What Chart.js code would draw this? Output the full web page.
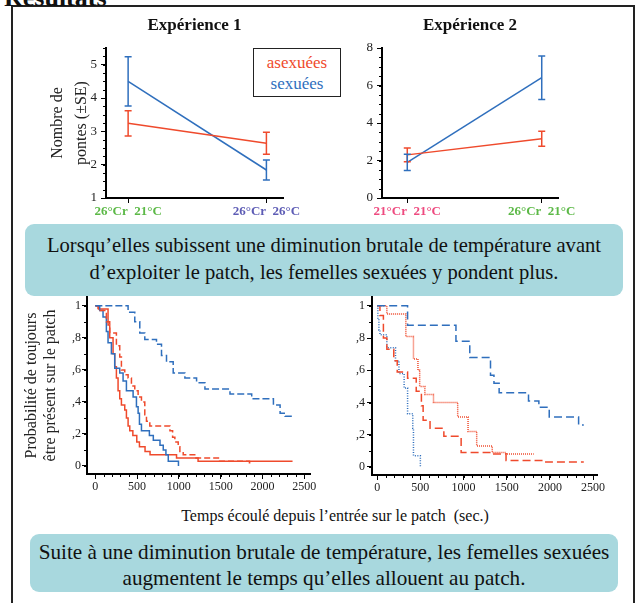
<!DOCTYPE html>
<html lang="fr">
<head>
<meta charset="utf-8">
<title>Résultats</title>
<script src="https://cdn.jsdelivr.net/npm/chart.js@4.4.1/dist/chart.umd.min.js"></script>
<style>
  body { margin: 0; background: #fff; }
  #page { position: relative; width: 640px; height: 603px; overflow: hidden;
          font-family: "Liberation Serif", "Times New Roman", serif; color: #111; }
  canvas { position: absolute; }
  #cadre { position: absolute; left: 11px; top: 5px; width: 624px; height: 700px;
           box-sizing: border-box; border: 2px solid #222; }
  #titre { position: absolute; left: 4px; top: -15px; font-size: 26px; line-height: 26px;
           font-weight: bold; white-space: nowrap; }
  #legende { position: absolute; left: 253px; top: 48px; width: 88px; height: 49px;
             box-sizing: border-box; border: 1px solid #222; background: #fff;
             display: flex; flex-direction: column; justify-content: center; align-items: center;
             font-size: 17px; line-height: 21px; }
  #axeTemps { position: absolute; left: 0; width: 670px; top: 507px; text-align: center;
              font-size: 16px; line-height: 18px; white-space: pre; }
  .encadre { position: absolute; background: #a8d8de; border-radius: 9px; text-align: center;
             color: #111; box-sizing: border-box; white-space: nowrap; }
  #conclusion1 { left: 25px; top: 224px; width: 598px; height: 72px; padding-top: 8px;
                 font-size: 20.6px; line-height: 27px; }
  #conclusion2 { left: 30px; top: 534px; width: 588px; height: 58px; padding-top: 5px;
                 font-size: 21.2px; line-height: 26px; }
</style>
</head>
<body>
<div id="page">
  <div id="cadre"></div>
  <div id="titre">Résultats</div>
  <canvas id="exp1" width="330" height="222" style="left:0;top:0"></canvas>
  <canvas id="exp2" width="300" height="222" style="left:330px;top:0"></canvas>
  <canvas id="survie1" width="330" height="210" style="left:0;top:290px"></canvas>
  <canvas id="survie2" width="300" height="210" style="left:330px;top:290px"></canvas>
  <div id="legende"></div>
  <div id="conclusion1" class="encadre">Lorsqu’elles subissent une diminution brutale de température avant<br>d’exploiter le patch, les femelles sexuées y pondent plus.</div>
  <div id="axeTemps">Temps écoulé depuis l’entrée sur le patch  (sec.)</div>
  <div id="conclusion2" class="encadre">Suite à une diminution brutale de température, les femelles sexuées<br>augmentent le temps qu’elles allouent au patch.</div>
</div>

<script>
// Séries (asexuées / sexuées)
const nomsSeries = ["asexuées", "sexuées"];
const couleursSeries = ["#ef4a2c", "#2f6fbd"];

// Expérience 1 : nombre de pontes (±SE)
const categoriesExp1 = ["26°Cr  21°C", "26°Cr  26°C"];
const couleursCatExp1 = ["#5cb947", "#5d5cb5"];
const pontesAsexExp1 = [3.24, 2.64];
const seAsexExp1 = [0.38, 0.33];
const pontesSexExp1 = [4.5, 1.84];
const seSexExp1 = [0.74, 0.3];
const ticksExp1 = [1, 2, 3, 4, 5];

// Expérience 2 : nombre de pontes (±SE)
const categoriesExp2 = ["21°Cr  21°C", "26°Cr  21°C"];
const couleursCatExp2 = ["#ee4a7f", "#5cb947"];
const pontesAsexExp2 = [2.3, 3.16];
const seAsexExp2 = [0.37, 0.4];
const pontesSexExp2 = [1.9, 6.42];
const seSexExp2 = [0.43, 1.16];
const ticksExp2 = [0, 2, 4, 6, 8];

// Probabilité de rester sur le patch, expérience 1
const tempsAsexChaud1 = [0, 40, 152, 172, 212, 232, 252, 272, 292, 312, 352, 372, 392, 412, 449, 496, 528, 595, 655, 972, 1230, 2361];
const survieAsexChaud1 = [1, 0.98, 0.88, 0.8, 0.7, 0.62, 0.55, 0.47, 0.42, 0.38, 0.35, 0.3, 0.25, 0.22, 0.19, 0.15, 0.12, 0.09, 0.07, 0.05, 0.03, 0.03];
const tempsSexChaud1 = [0, 52, 92, 132, 152, 192, 232, 292, 332, 372, 452, 492, 512, 528, 552, 647, 694, 774, 813, 845, 873, 995];
const survieSexChaud1 = [1, 0.97, 0.93, 0.84, 0.77, 0.7, 0.61, 0.58, 0.53, 0.47, 0.43, 0.37, 0.33, 0.26, 0.22, 0.19, 0.16, 0.13, 0.1, 0.07, 0.03, 0];
const tempsAsexChoc1 = [0, 32, 132, 172, 252, 292, 312, 352, 392, 432, 472, 512, 552, 592, 612, 652, 893, 925, 952, 992, 1012, 1052, 1190, 1488, 1845, 1860];
const survieAsexChoc1 = [1, 0.97, 0.9, 0.83, 0.75, 0.68, 0.6, 0.57, 0.55, 0.5, 0.47, 0.43, 0.4, 0.32, 0.28, 0.25, 0.22, 0.18, 0.15, 0.12, 0.09, 0.07, 0.05, 0.03, 0.02, 0.02];
const tempsSexChoc1 = [0, 392, 472, 532, 592, 732, 792, 852, 932, 1072, 1212, 1312, 1612, 1872, 2132, 2212, 2272, 2372];
const survieSexChoc1 = [1, 0.96, 0.9, 0.83, 0.79, 0.76, 0.69, 0.65, 0.58, 0.55, 0.52, 0.48, 0.45, 0.42, 0.38, 0.33, 0.31, 0.31];

// Probabilité de rester sur le patch, expérience 2
const tempsAsexFroid2 = [0, 112, 332, 420, 472, 492, 552, 652, 932, 1052, 1152, 1332, 1492, 1812];
const survieAsexFroid2 = [1, 0.95, 0.81, 0.67, 0.6, 0.5, 0.45, 0.4, 0.31, 0.22, 0.13, 0.09, 0.08, 0.08];
const tempsSexFroid2 = [0, 8, 20, 32, 112, 212, 252, 312, 352, 412, 420, 500];
const survieSexFroid2 = [1, 0.92, 0.85, 0.82, 0.74, 0.66, 0.58, 0.49, 0.33, 0.24, 0.07, 0];
const tempsAsexChoc2 = [0, 32, 72, 112, 192, 232, 352, 452, 512, 532, 612, 772, 972, 1332, 1492, 1952, 2392];
const survieAsexChoc2 = [1, 0.94, 0.8, 0.73, 0.66, 0.59, 0.55, 0.47, 0.38, 0.29, 0.24, 0.19, 0.09, 0.08, 0.04, 0.03, 0.03];
const tempsSexChoc2 = [0, 352, 912, 1072, 1312, 1352, 1412, 1752, 1872, 1992, 2332, 2392];
const survieSexChoc2 = [1, 0.88, 0.78, 0.68, 0.57, 0.52, 0.46, 0.41, 0.37, 0.31, 0.26, 0.26];

const ticksProba = [0, 0.2, 0.4, 0.6, 0.8, 1];
const ticksTemps = [0, 500, 1000, 1500, 2000, 2500];

Chart.defaults.font.family = '"Liberation Serif", "Times New Roman", serif';
Chart.defaults.color = "#222";
Chart.defaults.animation = false;

// Légende construite à partir des séries
const legende = document.getElementById("legende");
nomsSeries.forEach((nom, i) => {
  const span = document.createElement("span");
  span.textContent = nom;
  span.style.color = couleursSeries[i];
  legende.appendChild(span);
});

// Barres d'erreur (±SE) dessinées avec l'échelle y du graphique
const barresErreur = {
  id: "barresErreur",
  afterDatasetsDraw(chart) {
    const { ctx } = chart;
    const y = chart.scales.y;
    chart.data.datasets.forEach((ds, i) => {
      if (!ds.erreurs) return;
      const meta = chart.getDatasetMeta(i);
      ctx.save();
      ctx.strokeStyle = ds.borderColor;
      ctx.lineWidth = 1.5;
      meta.data.forEach((pt, j) => {
        const v = ds.data[j].y;
        const haut = y.getPixelForValue(v + ds.erreurs[j]);
        const bas = y.getPixelForValue(v - ds.erreurs[j]);
        ctx.beginPath();
        ctx.moveTo(pt.x, haut); ctx.lineTo(pt.x, bas);
        ctx.moveTo(pt.x - 3.5, haut); ctx.lineTo(pt.x + 3.5, haut);
        ctx.moveTo(pt.x - 3.5, bas); ctx.lineTo(pt.x + 3.5, bas);
        ctx.stroke();
      });
      ctx.restore();
    });
  }
};

// Petites graduations secondaires
const graduations = {
  id: "graduations",
  afterDraw(chart, args, opts) {
    const { ctx, chartArea } = chart;
    ctx.save();
    ctx.strokeStyle = "#000";
    ctx.lineWidth = 1;
    if (opts.yPas) {
      const s = chart.scales.y;
      for (let v = opts.yDe; v <= opts.yA + 1e-9; v += opts.yPas) {
        const p = Math.round(s.getPixelForValue(v)) + 0.5;
        ctx.beginPath(); ctx.moveTo(chartArea.left - 3, p); ctx.lineTo(chartArea.left, p); ctx.stroke();
      }
    }
    if (opts.xPas) {
      const s = chart.scales.x;
      for (let v = opts.xDe; v <= opts.xA + 1e-9; v += opts.xPas) {
        const p = Math.round(s.getPixelForValue(v)) + 0.5;
        ctx.beginPath(); ctx.moveTo(p, chartArea.bottom); ctx.lineTo(p, chartArea.bottom + 3); ctx.stroke();
      }
    }
    ctx.restore();
  }
};

const sansMarges = (scale) => {
  scale.paddingLeft = 0; scale.paddingRight = 0; scale.paddingTop = 0; scale.paddingBottom = 0;
};
const largeurFixe = (w) => (scale) => { scale.width = w; sansMarges(scale); };
const hauteurFixe = (h) => (scale) => { scale.height = h; sansMarges(scale); };
const ticksFixes = (valeurs) => (scale) => { scale.ticks = valeurs.map((v) => ({ value: v })); };

const axeNoir = {
  border: { color: "#000", width: 2 },
  grid: { drawOnChartArea: false, drawTicks: true, tickLength: 5, tickColor: "#000", tickWidth: 1, lineWidth: 1 }
};

function serie(x, y) {
  return x.map((v, i) => ({ x: v, y: y[i] }));
}

// Graphique du nombre de pontes
function graphiquePontes(id, p) {
  return new Chart(document.getElementById(id), {
    type: "line",
    data: {
      datasets: [
        { label: nomsSeries[0], data: p.asex.map((v, i) => ({ x: i, y: v })), erreurs: p.seAsex,
          borderColor: couleursSeries[0], borderWidth: 1.5, pointRadius: 0 },
        { label: nomsSeries[1], data: p.sex.map((v, i) => ({ x: i, y: v })), erreurs: p.seSex,
          borderColor: couleursSeries[1], borderWidth: 1.5, pointRadius: 0 }
      ]
    },
    options: {
      responsive: false,
      layout: { padding: { top: 0, left: 0, bottom: 0, right: p.margeDroite } },
      plugins: {
        legend: { display: false },
        tooltip: { enabled: false },
        title: { display: true, text: p.titre, fullSize: false, color: "#111",
                 font: { size: 17, weight: "bold", lineHeight: 1.2 }, padding: { top: 15.8, bottom: 11.8 } },
        graduations: { yPas: p.pasMineur, yDe: p.yMin, yA: p.yMax }
      },
      scales: {
        x: {
          type: "linear", min: p.xMin, max: p.xMax, ...axeNoir,
          afterBuildTicks: ticksFixes(p.categories.map((c, i) => i)),
          afterFit: hauteurFixe(24),
          ticks: { padding: 1, font: { size: 13, weight: "bold" }, maxRotation: 0,
                   callback: (v) => p.categories[v], color: (c) => p.couleursCat[c.index] }
        },
        y: {
          type: "linear", min: p.yMin, max: p.yMax, ...axeNoir,
          afterBuildTicks: ticksFixes(p.ticks),
          afterFit: largeurFixe(p.largeurY),
          ticks: { padding: 4, font: { size: 13 }, color: "#222", callback: (v) => String(v) },
          title: p.titreY ? { display: true, text: p.titreY, color: "#222",
                              font: { size: 16, lineHeight: 1.45 }, padding: { top: 46.5, bottom: 0 } }
                          : { display: false }
        }
      }
    },
    plugins: [barresErreur, graduations]
  });
}

graphiquePontes("exp1", {
  titre: "Expérience 1", categories: categoriesExp1, couleursCat: couleursCatExp1,
  asex: pontesAsexExp1, seAsex: seAsexExp1, sex: pontesSexExp1, seSex: seSexExp1,
  ticks: ticksExp1, yMin: 1, yMax: 5.5, pasMineur: 0.25, xMin: -0.16, xMax: 1.12,
  largeurY: 106, margeDroite: 47, titreY: ["Nombre de", "pontes (±SE)"]
});

graphiquePontes("exp2", {
  titre: "Expérience 2", categories: categoriesExp2, couleursCat: couleursCatExp2,
  asex: pontesAsexExp2, seAsex: seAsexExp2, sex: pontesSexExp2, seSex: seSexExp2,
  ticks: ticksExp2, yMin: 0, yMax: 8, pasMineur: 0.5, xMin: -0.188, xMax: 1.121,
  largeurY: 52, margeDroite: 72, titreY: null
});

// Graphique de survie sur le patch (courbes en escalier)
function graphiqueSurvie(id, p) {
  return new Chart(document.getElementById(id), {
    type: "line",
    data: {
      datasets: p.courbes.map((c) => ({
        data: serie(c.temps, c.survie), borderColor: c.couleur, borderDash: c.tirets,
        borderWidth: 1.5, pointRadius: 0, stepped: "before", fill: false
      }))
    },
    options: {
      responsive: false,
      layout: { padding: { top: 7, left: 0, bottom: 0, right: p.margeDroite } },
      plugins: {
        legend: { display: false },
        tooltip: { enabled: false },
        graduations: { yPas: 0.1, yDe: 0, yA: 1, xPas: 100, xDe: 0, xA: 2500 }
      },
      scales: {
        x: {
          type: "linear", min: p.xMin, max: p.xMax, ...axeNoir,
          afterBuildTicks: ticksFixes(ticksTemps),
          afterFit: hauteurFixe(p.hauteurX),
          ticks: { padding: 1, font: { size: 12 }, maxRotation: 0, color: "#222",
                   callback: (v) => String(v) }
        },
        y: {
          type: "linear", min: -0.05, max: 1.055, ...axeNoir,
          afterBuildTicks: ticksFixes(ticksProba),
          afterFit: largeurFixe(p.largeurY),
          ticks: { padding: p.padY, font: { size: 12 }, color: "#222",
                   callback: (v) => (v === 0 || v === 1 ? String(v) : "," + Math.round(v * 10)) },
          title: p.titreY ? { display: true, text: p.titreY, color: "#222",
                              font: { size: 16, lineHeight: 1.2 }, padding: { top: 22, bottom: 0 } }
                          : { display: false }
        }
      }
    },
    plugins: [graduations]
  });
}

const [rouge, bleu] = couleursSeries;

graphiqueSurvie("survie1", {
  largeurY: 87, hauteurX: 26, margeDroite: 20, xMin: -100, xMax: 2570, padY: 1,
  titreY: ["Probabilité de toujours", "être présent sur le patch"],
  courbes: [
    { temps: tempsSexChoc1, survie: survieSexChoc1, couleur: bleu, tirets: [7, 3] },
    { temps: tempsAsexChoc1, survie: survieAsexChoc1, couleur: rouge, tirets: [6, 3] },
    { temps: tempsSexChaud1, survie: survieSexChaud1, couleur: bleu, tirets: [] },
    { temps: tempsAsexChaud1, survie: survieAsexChaud1, couleur: rouge, tirets: [] }
  ]
});

graphiqueSurvie("survie2", {
  largeurY: 42, hauteurX: 25, margeDroite: 33, xMin: -60, xMax: 2545, padY: 2, titreY: null,
  courbes: [
    { temps: tempsSexChoc2, survie: survieSexChoc2, couleur: bleu, tirets: [8, 4] },
    { temps: tempsAsexChoc2, survie: survieAsexChoc2, couleur: rouge, tirets: [8, 4] },
    { temps: tempsAsexFroid2, survie: survieAsexFroid2, couleur: rouge, tirets: [1, 1] },
    { temps: tempsSexFroid2, survie: survieSexFroid2, couleur: bleu, tirets: [1, 1.5] }
  ]
});
</script>
</body>
</html>
